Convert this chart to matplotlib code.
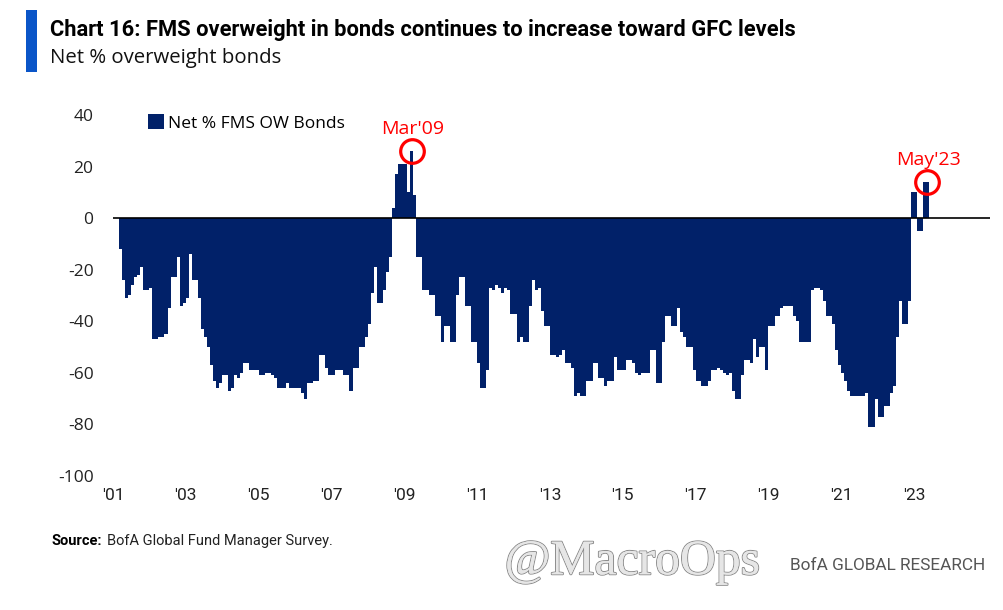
import matplotlib
matplotlib.use('Agg')
import matplotlib.pyplot as plt
import matplotlib.patheffects as pe
from matplotlib import font_manager
from matplotlib.patches import Rectangle
import pandas as pd

# Net % FMS overweight bonds, monthly, Mar 2001 .. May 2023
v2001 = [-12, -24, -31, -30, -26, -23, -22, -19, -28, -28]
v2002 = [-27, -47, -47, -46, -46, -45, -35, -23, -23, -15, -34, -33]
v2003 = [-31, -14, -24, -24, -31, -43, -46, -50, -57, -63, -66, -64]
v2004 = [-61, -61, -67, -66, -61, -62, -60, -56, -56, -59, -59, -59]
v2005 = [-61, -61, -60, -60, -61, -62, -66, -66, -66, -64, -66, -66]
v2006 = [-66, -66, -68, -70, -64, -64, -63, -63, -53, -53, -58, -61]
v2007 = [-61, -59, -59, -59, -61, -61, -67, -58, -58, -50, -50, -46]
v2008 = [-41, -29, -19, -33, -33, -28, -21, -15, 4, 17, 21, 21]
v2009 = [21, 10, 26, 9, -15, -15, -28, -28, -30, -30, -38, -38]
v2010 = [-48, -42, -42, -48, -48, -30, -23, -23, -34, -34, -48, -48]
v2011 = [-56, -66, -66, -59, -27, -28, -26, -27, -29, -27, -28, -37]
v2012 = [-37, -48, -46, -48, -48, -34, -24, -28, -27, -36, -42, -42]
v2013 = [-53, -53, -54, -53, -51, -56, -56, -58, -69, -68, -69, -69]
v2014 = [-63, -63, -56, -56, -62, -62, -65, -63, -63, -54, -59, -59]
v2015 = [-59, -55, -55, -56, -60, -61, -60, -60, -60, -51, -51, -64]
v2016 = [-64, -48, -38, -38, -42, -42, -35, -44, -46, -50, -50, -59]
v2017 = [-63, -63, -65, -65, -63, -59, -59, -58, -59, -60, -61, -60]
v2018 = [-67, -70, -70, -61, -55, -55, -56, -47, -54, -50, -50, -59]
v2019 = [-42, -42, -38, -38, -35, -34, -34, -34, -38, -40, -48, -48]
v2020 = [-48, -48, -28, -27, -27, -28, -32, -38, -38, -41, -51, -57]
v2021 = [-60, -63, -67, -69, -69, -69, -69, -69, -68, -81, -81, -70]
v2022 = [-77, -77, -73, -73, -68, -65, -46, -32, -41, -41, -32, 10]
v2023 = [10, -5, -5, 14, 14]

values = (v2001 + v2002 + v2003 + v2004 + v2005 + v2006 + v2007 + v2008 + v2009
          + v2010 + v2011 + v2012 + v2013 + v2014 + v2015 + v2016 + v2017 + v2018
          + v2019 + v2020 + v2021 + v2022 + v2023)
dates = pd.date_range('2001-03-01', periods=len(values), freq='MS')

tick_years = list(range(2001, 2024, 2))
tick_labels = ["'%02d" % (y % 100) for y in tick_years]
y_ticks = [40, 20, 0, -20, -40, -60, -80, -100]

callouts = [("Mar'09", '2009-03-01'), ("May'23", '2023-05-01')]

navy = '#012169'
red = '#FF0000'

names = {f.name for f in font_manager.fontManager.ttflist}
narrow = 'Liberation Sans Narrow' if 'Liberation Sans Narrow' in names else 'Roboto'
main_font = 'Open Sans'

fig = plt.figure(figsize=(10.04, 6.10), dpi=100)
ax = fig.add_axes([113 / 1004, 1 - 476 / 610, 877 / 1004, 361 / 610])

bars = ax.bar(dates, values, width=31, align='edge', color=navy, linewidth=0,
              label='Net % FMS OW Bonds')
ax.axhline(0, color='black', lw=1.2, zorder=3)

ax.set_ylim(-100, 40)
ax.set_xlim(pd.Timestamp('2001-01-01'), pd.Timestamp('2025-02-01'))
ax.set_yticks(y_ticks)
ax.set_yticklabels([str(t) for t in y_ticks], fontfamily=main_font, fontsize=12.5)
ax.set_xticks([pd.Timestamp('%d-01-01' % y) for y in tick_years])
ax.set_xticklabels(tick_labels, fontfamily=narrow, fontsize=12.5)
ax.tick_params(axis='y', length=0, pad=14, colors='#222222')
ax.tick_params(axis='x', length=0, pad=9, colors='#222222')
for s in ax.spines.values():
    s.set_visible(False)

leg = ax.legend(loc='center left', bbox_to_anchor=(0.03, 0.978), frameon=False,
                handlelength=0.9, handleheight=0.9, handletextpad=0.25,
                borderpad=0, prop={'family': main_font, 'size': 12.5})

# red circles and labels
for label, d in callouts:
    i = list(dates).index(pd.Timestamp(d))
    xc = dates[i] + pd.Timedelta(days=15)
    ax.plot([xc], [values[i]], 'o', ms=17, mfc='none', mec=red, mew=2.3, zorder=5)
    ax.annotate(label, xy=(xc, values[i]), xytext=(1, 12), textcoords='offset points',
                ha='center', va='baseline', color=red, fontsize=14,
                fontfamily=main_font, zorder=5)

# header
fig.add_artist(Rectangle((26 / 1004, 1 - 72 / 610), 11 / 1004, 62 / 610,
                         transform=fig.transFigure, color='#0A55C8', lw=0))
title = fig.text(50 / 1004, 1 - 30 / 610,
                 'Chart 16: FMS overweight in bonds continues to increase toward GFC levels',
                 fontfamily=narrow, fontweight='bold', fontsize=16, va='center', color='black')
sub = fig.text(50 / 1004, 1 - 58 / 610, 'Net % overweight bonds',
               fontfamily=main_font, fontsize=14, va='center', color='#111111')

r = fig.canvas.get_renderer()


def fit_width(t, px):
    w = t.get_window_extent(r).width
    t.set_fontsize(t.get_fontsize() * px / w)


fit_width(title, 745)
fit_width(sub, 233)

# footer
src = fig.text(52 / 1004, 1 - 541 / 610, 'Source:', fontfamily=narrow, fontweight='bold',
               fontsize=10.5, va='center', color='black')
bb = src.get_window_extent(r)
fig.text((bb.x1 + 5) / 1004, 1 - 541 / 610, 'BofA Global Fund Manager Survey.',
         fontfamily=narrow, fontsize=10.5, va='center', color='#222222')

wm = fig.text(632 / 1004, 1 - 562 / 610, '@MacroOps', fontfamily='Liberation Serif',
              fontsize=40, ha='center', va='center', color='#e6e6e6')
wm.set_path_effects([pe.withStroke(linewidth=1.4, foreground='#8a8a8a'), pe.Normal()])
fit_width(wm, 255)

brand = fig.text(985 / 1004, 1 - 566 / 610, 'BofA GLOBAL RESEARCH', fontfamily=narrow,
                 fontsize=11, ha='right', va='center', color='#555555')
fit_width(brand, 195)

fig.savefig('out.png', dpi=100)
